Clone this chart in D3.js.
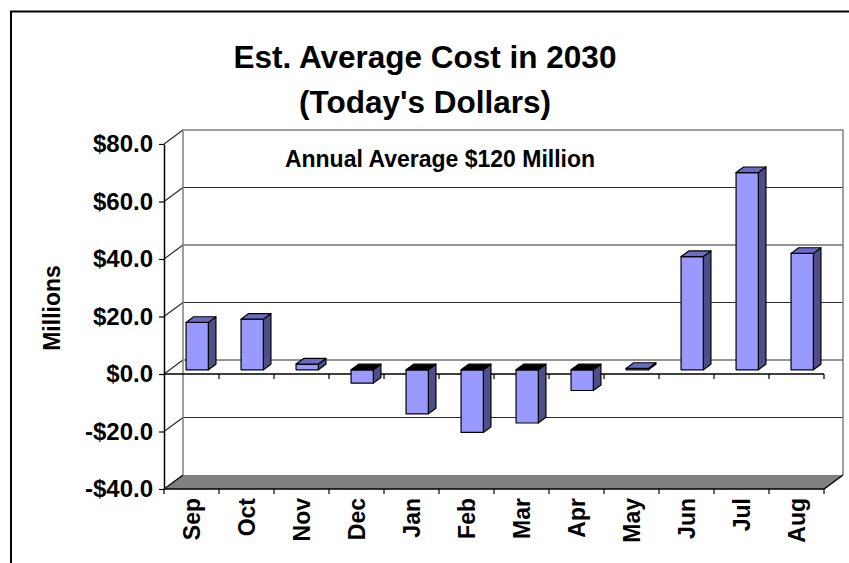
<!DOCTYPE html>
<html>
<head>
<meta charset="utf-8">
<script src="https://cdn.jsdelivr.net/npm/d3@7"></script>
<style>
  html, body { margin: 0; padding: 0; background: #fff; }
  svg { display: block; }
  text { font-family: "Liberation Sans", Arial, sans-serif; font-weight: bold; fill: #000; }
</style>
</head>
<body>
<svg id="chart" width="849" height="563"></svg>
<script>
// ---- data ----
const months = ["Sep","Oct","Nov","Dec","Jan","Feb","Mar","Apr","May","Jun","Jul","Aug"];
const costs  = [16.5, 17.6, 2.0, -4.6, -15.3, -21.8, -18.5, -7.2, 0.5, 39.4, 68.6, 40.5];
const yTicks = [-40, -20, 0, 20, 40, 60, 80];
const titleLines = ["Est. Average Cost in 2030", "(Today's Dollars)"];
const noteText = "Annual Average $120 Million";
const yTitle = "Millions";

// ---- layout ----
const svg = d3.select("#chart");
const frontLeft = 164, frontRight = 824, frontTop = 144, frontBottom = 489;
const depth = {dx: 19, dy: -14};
const barDepth0 = 0.3, barDepth1 = 0.7, barWidthFrac = 0.405;

const x = d3.scaleBand().domain(months).range([frontLeft, frontRight]).padding(0);
const y = d3.scaleLinear().domain([-40, 80]).range([frontBottom, frontTop]);

const fmt = v => (v < 0 ? "-$" : "$") + d3.format(".1f")(Math.abs(v));

// outer frame (cropped figure box)
svg.append("path").attr("d", "M11,563 V11.5 H849")
  .attr("fill", "none").attr("stroke", "#000").attr("stroke-width", 2);

// back wall
const bx0 = frontLeft + depth.dx, bx1 = frontRight + depth.dx;
const by = v => y(v) + depth.dy;
svg.append("rect").attr("x", bx0).attr("y", by(80)).attr("width", bx1 - bx0)
  .attr("height", by(-40) - by(80)).attr("fill", "#fff");

// floor
svg.append("path")
  .attr("d", `M${frontLeft},${y(-40)} L${frontRight},${y(-40)} L${bx1},${by(-40)} L${bx0},${by(-40)} Z`)
  .attr("fill", "#808080");

// gridlines on back wall + left wall diagonals
const grid = svg.append("g");
yTicks.filter(t => t > -40 && t < 80).forEach(t => {
  grid.append("line").attr("x1", bx0).attr("x2", bx1).attr("y1", by(t)).attr("y2", by(t))
    .attr("stroke", "#2a2a2a").attr("stroke-width", 1.2);
});
yTicks.forEach(t => {
  grid.append("line").attr("x1", frontLeft).attr("x2", bx0).attr("y1", y(t)).attr("y2", by(t))
    .attr("stroke", t === -40 ? "#000" : "#2a2a2a").attr("stroke-width", 1.2);
});
// back wall border
svg.append("path").attr("d", `M${bx0},${by(-40)} V${by(80)} H${bx1} V${by(-40)}`)
  .attr("fill", "none").attr("stroke", "#808080").attr("stroke-width", 1.5);
// floor front/right edges
svg.append("path").attr("d", `M${frontLeft},${y(-40)} H${frontRight} L${bx1},${by(-40)}`)
  .attr("fill", "none").attr("stroke", "#000").attr("stroke-width", 1.5);

// category axis at zero (front) and at floor edge: boundary ticks
const bounds = months.map(m => x(m)).concat([frontRight]);
const ca = svg.append("g");
ca.append("line").attr("x1", frontLeft).attr("x2", frontRight).attr("y1", y(0)).attr("y2", y(0))
  .attr("stroke", "#000").attr("stroke-width", 1.5);
bounds.forEach((bx, i) => {
  if (i > 0) ca.append("line").attr("x1", bx).attr("x2", bx).attr("y1", y(0)).attr("y2", y(0) + 5)
    .attr("stroke", "#000").attr("stroke-width", 1.2);
  ca.append("line").attr("x1", bx).attr("x2", bx).attr("y1", y(-40)).attr("y2", y(-40) + 5)
    .attr("stroke", "#000").attr("stroke-width", 1.2);
});

// y axis
const yAxis = svg.append("g").attr("transform", `translate(${frontLeft},0)`)
  .call(d3.axisLeft(y).tickValues(yTicks).tickFormat(fmt).tickSize(5).tickSizeOuter(0).tickPadding(6));
yAxis.select(".domain").attr("stroke", "#000").attr("stroke-width", 1.5);
yAxis.selectAll(".tick line").attr("stroke", "#000").attr("stroke-width", 1.2);
yAxis.selectAll(".tick text").style("font-size", "24px")
  .style("font-family", "'Liberation Sans', Arial, sans-serif").style("font-weight", "bold").attr("fill", "#000");

// bars
const bw = x.bandwidth() * barWidthFrac;
const d0x = depth.dx * barDepth0, d0y = depth.dy * barDepth0;
const ddx = depth.dx * (barDepth1 - barDepth0), ddy = depth.dy * (barDepth1 - barDepth0);
const bars = svg.append("g");
months.forEach((m, i) => {
  const v = costs[i];
  const cx = x(m) + x.bandwidth() / 2 + d0x;
  const x0 = cx - bw / 2, x1 = cx + bw / 2;
  const yv = y(v) + d0y, y0 = y(0) + d0y;
  const yTop = Math.min(yv, y0), yBot = Math.max(yv, y0);
  const g = bars.append("g").attr("stroke", "#000").attr("stroke-width", 1.2).attr("stroke-linejoin", "round");
  // side face
  g.append("path").attr("d", `M${x1},${yTop} L${x1 + ddx},${yTop + ddy} L${x1 + ddx},${yBot + ddy} L${x1},${yBot} Z`)
    .attr("fill", "#4e4e88");
  // front face
  g.append("rect").attr("x", x0).attr("y", yTop).attr("width", bw).attr("height", Math.max(yBot - yTop, 0.5))
    .attr("fill", "#9999ff");
  // top face
  g.append("path").attr("d", `M${x0},${yTop} L${x1},${yTop} L${x1 + ddx},${yTop + ddy} L${x0 + ddx},${yTop + ddy} Z`)
    .attr("fill", v >= 0 ? "#6b6bc4" : "#000");
});

// category labels
svg.append("g").selectAll("text").data(months).join("text")
  .attr("transform", d => `translate(${x(d) + x.bandwidth() / 2},${y(-40) + 9}) rotate(-90)`)
  .attr("text-anchor", "end").attr("dy", "0.36em")
  .style("font-size", "23px").text(d => d);

// titles
svg.append("g").selectAll("text").data(titleLines).join("text")
  .attr("x", 425).attr("y", (d, i) => 68 + i * 45)
  .attr("text-anchor", "middle").style("font-size", "31.5px").text(d => d);
svg.append("text").attr("x", 440).attr("y", 167).attr("text-anchor", "middle")
  .style("font-size", "23px").text(noteText);
svg.append("text").attr("transform", "translate(52,308) rotate(-90)")
  .attr("text-anchor", "middle").attr("dy", "0.36em").style("font-size", "23px").text(yTitle);
</script>
</body>
</html>
